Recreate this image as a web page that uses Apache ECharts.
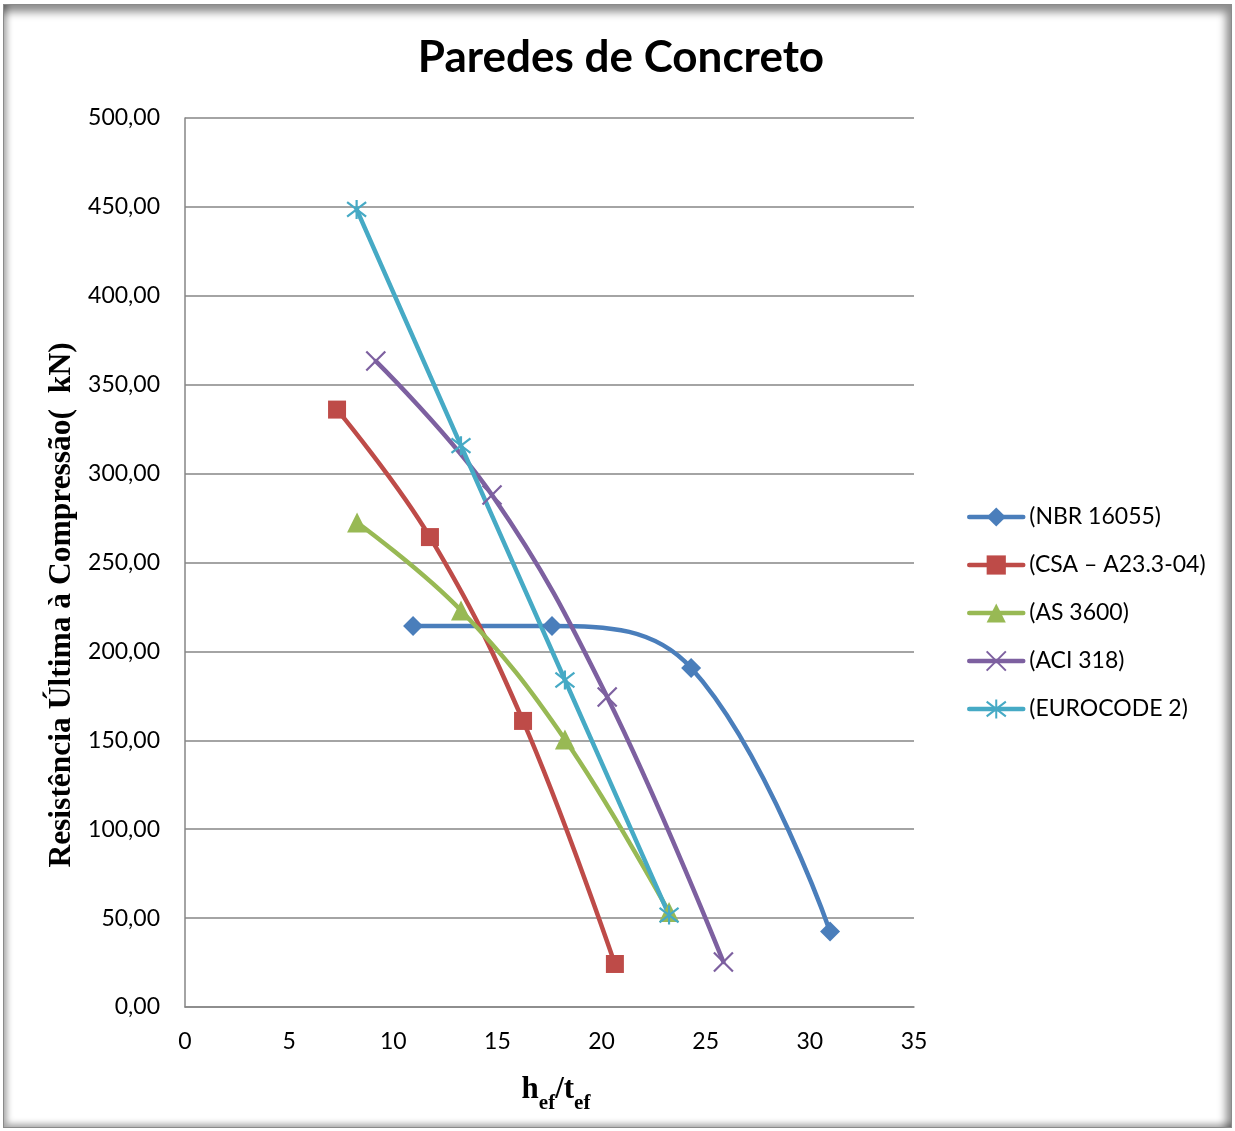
<!DOCTYPE html>
<html>
<head>
<meta charset="utf-8">
<script src="https://cdn.jsdelivr.net/npm/echarts@6/dist/echarts.min.js"></script>
<style>
  html, body { margin: 0; padding: 0; background: #ffffff; }
  #frame {
    position: absolute; left: 3px; top: 4px; width: 1229px; height: 1124px;
    box-sizing: border-box; border: 1px solid #8a8a8a;
    box-shadow: inset -7px 9px 9px -2px rgba(0,0,0,0.45), inset 5px -5px 6px -2px rgba(0,0,0,0.35);
  }
  #chart { position: absolute; left: 0; top: 0; width: 1235px; height: 1131px; }
</style>
</head>
<body>
<div id="frame"></div>
<div id="chart"></div>
<script>
// Slenderness ratio (hef/tef) and ultimate compressive strength (kN) per code
const nbrH = [10.95, 17.62, 24.3, 30.97];
const nbrV = [214.3, 214.3, 190.7, 42.5];
const csaH = [7.3, 11.76, 16.23, 20.64];
const csaV = [336.0, 264.3, 160.9, 24.2];
const asH = [8.26, 13.25, 18.24, 23.24];
const asV = [272.5, 223.0, 150.5, 53.4];
const aciH = [9.16, 14.74, 20.27, 25.85];
const aciV = [363.3, 288.0, 174.4, 25.3];
const ecH = [8.24, 13.25, 18.24, 23.24];
const ecV = [448.6, 315.7, 183.9, 51.7];

const seriesNames = ['(NBR 16055)', '(CSA \u2013 A23.3-04)', '(AS 3600)', '(ACI 318)', '(EUROCODE 2)'];
const seriesColors = ['#4A7EBB', '#BE4B48', '#98B954', '#7D60A0', '#46AAC5'];

const pairs = (xs, ys) => xs.map((x, i) => [x, ys[i]]);

const crossPath = 'path://M0,0L10,10M10,0L0,10';
const starPath = 'path://M0,0L10,10M10,0L0,10M5,-1.5L5,11.5';

function lineSeries(name, color, data, symbol, size, hollow) {
  return {
    name, type: 'line', data, smooth: 0.4,
    symbol, symbolSize: size, showSymbol: true,
    lineStyle: { color, width: 4.5, cap: 'round' },
    itemStyle: hollow
      ? { color: 'rgba(0,0,0,0)', borderColor: color, borderWidth: 2.2 }
      : { color, borderColor: color, borderWidth: 0 },
    emphasis: { disabled: true },
    z: 2
  };
}

const chart = echarts.init(document.getElementById('chart'), null, { renderer: 'canvas' });

chart.setOption({
  animation: false,
  backgroundColor: 'transparent',
  textStyle: { fontFamily: 'Lato' },
  title: {
    text: 'Paredes de Concreto', left: 616, top: 31, textAlign: 'center',
    textStyle: { fontFamily: 'Lato', fontWeight: 'bold', fontSize: 44, color: '#000' }
  },
  grid: { left: 185, right: 321, top: 118, bottom: 124, containLabel: false },
  xAxis: {
    type: 'value', min: 0, max: 35, interval: 5,
    axisLine: { show: true, lineStyle: { color: '#868686', width: 1.5 } },
    axisTick: { show: false },
    splitLine: { show: false },
    axisLabel: { margin: 23, fontSize: 23, color: '#000', fontFamily: 'Lato' }
  },
  yAxis: {
    type: 'value', min: 0, max: 500, interval: 50,
    axisLine: { show: true, lineStyle: { color: '#868686', width: 1.5 } },
    axisTick: { show: false },
    splitLine: { show: true, lineStyle: { color: '#868686', width: 1.5 } },
    axisLabel: {
      margin: 25, fontSize: 23, color: '#000', fontFamily: 'Lato',
      formatter: v => v.toFixed(2).replace('.', ',')
    }
  },
  legend: {
    orient: 'vertical', left: 962, top: 500,
    itemWidth: 54, itemHeight: 24, itemGap: 24,
    data: seriesNames,
    lineStyle: { width: 4.5 },
    textStyle: { fontSize: 23, lineHeight: 24, color: '#000', fontFamily: 'Lato', padding: [0, 0, 0, 1] }
  },
  graphic: [
    {
      type: 'text', x: 62, y: 605, rotation: Math.PI / 2,
      style: {
        text: 'Resistência Última à Compressão(  kN)',
        font: 'bold 31.5px "Liberation Serif"', fill: '#000',
        align: 'center', verticalAlign: 'middle'
      }
    },
    {
      type: 'text', x: 556, y: 1088,
      style: {
        text: '{m|h}{s|ef}{m|/t}{s|ef}',
        align: 'center', verticalAlign: 'middle',
        rich: {
          m: { font: 'bold 31px "Liberation Serif"', fill: '#000', verticalAlign: 'bottom', lineHeight: 34 },
          s: { font: 'bold 21px "Liberation Serif"', fill: '#000', verticalAlign: 'bottom', lineHeight: 34, padding: [0, 0, -9, 0] }
        }
      }
    }
  ],
  series: [
    lineSeries(seriesNames[0], seriesColors[0], pairs(nbrH, nbrV), 'diamond', 20, false),
    lineSeries(seriesNames[1], seriesColors[1], pairs(csaH, csaV), 'rect', 18, false),
    lineSeries(seriesNames[2], seriesColors[2], pairs(asH, asV), 'triangle', 20, false),
    lineSeries(seriesNames[3], seriesColors[3], pairs(aciH, aciV), crossPath, 19, true),
    lineSeries(seriesNames[4], seriesColors[4], pairs(ecH, ecV), starPath, 19, true)
  ]
});
</script>
</body>
</html>
